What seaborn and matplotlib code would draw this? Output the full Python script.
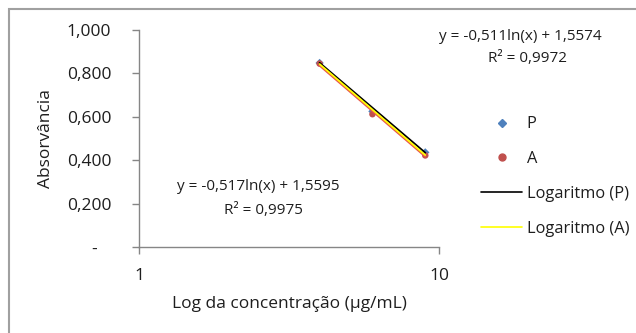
import numpy as np
import pandas as pd
import matplotlib
matplotlib.use("Agg")
import matplotlib.pyplot as plt
import seaborn as sns
from matplotlib.patches import Rectangle
from matplotlib.lines import Line2D

# Data
conc = [4, 6, 9]
abs_P = [0.848, 0.625, 0.436]
abs_A = [0.845, 0.612, 0.422]
fit_P = (-0.511, 1.5574)
fit_A = (-0.517, 1.5595)
yticks = [0.0, 0.2, 0.4, 0.6, 0.8, 1.0]
ytick_labels = ["-   ", "0,200", "0,400", "0,600", "0,800", "1,000"]
xticks = [1, 10]
xtick_labels = ["1", "10"]

sns.set_style("white")
plt.rcParams['font.family'] = ['Open Sans', 'DejaVu Sans']
TXT = "#1E1E1E"

fig = plt.figure(figsize=(6.36, 3.33), dpi=100)
ax = fig.add_axes([139/636, 86/333, 300/636, 217/333])

pts = pd.DataFrame({"x": conc * 2, "y": abs_P + abs_A,
                    "s": ["P"] * 3 + ["A"] * 3})
xs = np.array([conc[0], conc[-1]], dtype=float)
trend = pd.DataFrame({
    "x": list(xs) * 2,
    "y": list(fit_P[0] * np.log(xs) + fit_P[1]) + list(fit_A[0] * np.log(xs) + fit_A[1]),
    "s": ["P"] * 2 + ["A"] * 2,
})
tA = trend[trend.s == "A"]
tP = trend[trend.s == "P"]

sns.lineplot(data=tA, x="x", y=tA.y - 0.006, color="#E8584A", lw=1.6, ax=ax, legend=False)
sns.scatterplot(data=pts[pts.s == "P"], x="x", y="y", marker="D", color="#4F81BD",
                s=18, edgecolor="none", ax=ax, legend=False)
sns.scatterplot(data=pts[pts.s == "A"], x="x", y="y", marker="o", color="#C0504D",
                s=22, edgecolor="none", ax=ax, legend=False)
sns.lineplot(data=tP, x="x", y="y", color="black", lw=1.3, ax=ax, legend=False)
sns.lineplot(data=tA, x="x", y="y", color="#FFFF00", lw=1.3, ax=ax, legend=False)

ax.set_xscale("log")
ax.set_xlim(1, 10)
ax.set_ylim(0, 1.0)
ax.set_xticks(xticks)
ax.set_xticklabels(xtick_labels)
ax.xaxis.set_minor_locator(matplotlib.ticker.NullLocator())
ax.set_yticks(yticks)
ax.set_yticklabels(ytick_labels)

for sp in ["top", "right"]:
    ax.spines[sp].set_visible(False)
for sp in ["left", "bottom"]:
    ax.spines[sp].set_color("#868686")
    ax.spines[sp].set_linewidth(1.0)
ax.tick_params(axis="both", which="major", direction="out", length=5, width=1,
               color="#868686", labelsize=12.5, labelcolor=TXT, left=True, bottom=True)
ax.tick_params(axis="y", pad=15)
ax.tick_params(axis="x", pad=10)
ax.set_xlabel("")
ax.set_ylabel("")

fig.text(289/636, 1 - 304/333, "Log da concentração (µg/mL)", ha="center", va="center",
         fontsize=12.5, color=TXT)
fig.text(46/636, 1 - 139/333, "Absorvância", ha="center", va="center", rotation=90,
         fontsize=12.5, color=TXT)

fig.text(520/636, 1 - 37/333, "y = -0,511ln(x) + 1,5574", ha="center", va="center",
         fontsize=11, color=TXT)
fig.text(528/636, 1 - 58/333, "R² = 0,9972", ha="center", va="center",
         fontsize=11, color=TXT)
fig.text(258/636, 1 - 187/333, "y = -0,517ln(x) + 1,5595", ha="center", va="center",
         fontsize=11, color=TXT)
fig.text(263/636, 1 - 210/333, "R² = 0,9975", ha="center", va="center",
         fontsize=11, color=TXT)

handles = [
    Line2D([], [], marker="D", color="#4F81BD", ls="none", markersize=4),
    Line2D([], [], marker="o", color="#C0504D", ls="none", markersize=5),
    Line2D([], [], color="black", lw=1.2),
    Line2D([], [], color="#FFFF00", lw=1.2),
]
labels = ["P", "A", "Logaritmo (P)", "Logaritmo (A)"]
fig.legend(handles, labels, loc="upper left", bbox_to_anchor=(470/636, 1 - 105/333),
           frameon=False, fontsize=11.8, handlelength=2.45, handletextpad=0.3,
           labelspacing=1.14, borderpad=0.2, labelcolor=TXT)

fig.patches.append(Rectangle((9/636, -0.2), 2.0, 1.2 - 9/333, transform=fig.transFigure,
                             fill=False, edgecolor="#A0A0A0", lw=1.5))

fig.savefig("out.png", dpi=100)
